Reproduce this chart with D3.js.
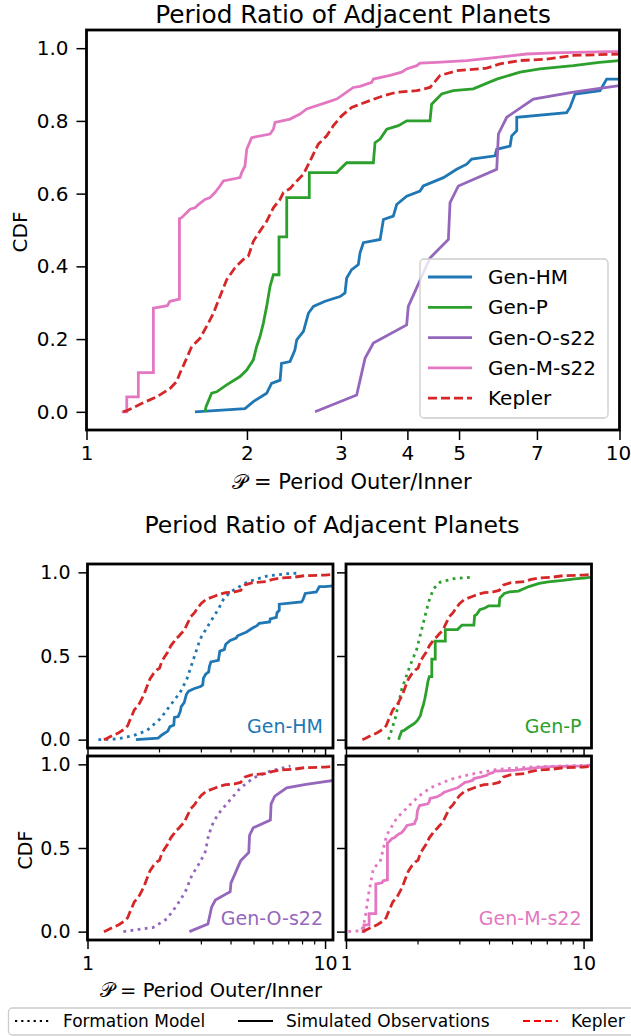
<!DOCTYPE html>
<html>
<head>
<meta charset="utf-8">
<script src="https://cdn.jsdelivr.net/npm/d3@7"></script>
<style>
  body { margin: 0; background: #fff; }
  svg { display: block; font-family: "DejaVu Sans", sans-serif; }
</style>
</head>
<body>
<script>
// Step 1: Data (period ratio P, cumulative fraction)
//= ================================
var kepler = [[1.172,0],[1.198,0.005],[1.269,0.023],[1.354,0.041],[1.434,0.064],[1.476,0.083],[1.497,0.106],[1.541,0.147],[1.575,0.179],[1.633,0.202],[1.693,0.244],[1.730,0.271],[1.780,0.317],[1.832,0.363],[1.899,0.396],[1.969,0.419],[2.012,0.428],[2.056,0.469],[2.116,0.497],[2.178,0.524],[2.242,0.561],[2.307,0.584],[2.341,0.603],[2.409,0.614],[2.462,0.630],[2.552,0.653],[2.627,0.690],[2.722,0.736],[2.823,0.759],[2.905,0.787],[3.011,0.814],[3.144,0.837],[3.260,0.846],[3.403,0.856],[3.605,0.869],[3.818,0.879],[4.163,0.883],[4.410,0.892],[4.606,0.925],[4.949,0.938],[5.634,0.945],[5.968,0.957],[6.507,0.966],[7.301,0.970],[8.193,0.980],[9.99,0.984],[11,0.988]];

var genHM = [[1.598,0],[1.983,0.009],[2.056,0.028],[2.178,0.051],[2.224,0.078],[2.308,0.087],[2.322,0.133],[2.409,0.138],[2.460,0.170],[2.480,0.198],[2.553,0.221],[2.608,0.271],[2.665,0.290],[2.803,0.304],[2.990,0.317],[3.055,0.327],[3.077,0.368],[3.144,0.391],[3.236,0.405],[3.260,0.437],[3.307,0.465],[3.555,0.474],[3.606,0.529],[3.764,0.538],[3.819,0.570],[3.987,0.593],[4.224,0.607],[4.285,0.621],[4.673,0.644],[4.949,0.667],[5.168,0.681],[5.281,0.695],[5.842,0.704],[5.884,0.722],[6.233,0.731],[6.278,0.759],[6.415,0.773],[6.415,0.810],[7.960,0.823],[8.075,0.837],[8.252,0.874],[9.192,0.883],[9.460,0.915],[9.99,0.915],[11,0.92]];

var genP = [[1.669,0],[1.676,0.014],[1.717,0.051],[1.755,0.055],[1.832,0.074],[1.941,0.097],[1.998,0.115],[2.056,0.143],[2.085,0.179],[2.116,0.207],[2.147,0.244],[2.178,0.290],[2.210,0.345],[2.242,0.377],[2.297,0.377],[2.297,0.481],[2.375,0.481],[2.375,0.589],[2.618,0.589],[2.618,0.658],[2.947,0.658],[3.077,0.685],[3.453,0.685],[3.478,0.740],[3.555,0.750],[3.659,0.777],[3.847,0.787],[3.987,0.800],[4.410,0.800],[4.442,0.846],[4.638,0.874],[4.877,0.883],[5.318,0.888],[5.884,0.915],[6.507,0.934],[7.093,0.943],[8.193,0.952],[9.167,0.961],[9.99,0.966],[11,0.972]];

var genO = [[2.684,0],[3.213,0.046],[3.331,0.147],[3.453,0.189],[3.987,0.239],[4.016,0.290],[4.410,0.423],[4.775,0.474],[4.809,0.575],[4.985,0.621],[5.884,0.667],[5.927,0.764],[6.144,0.810],[6.893,0.860],[8.193,0.879],[9.99,0.897],[11,0.905]];

var genM = [[1.164,0],[1.190,0],[1.190,0.041],[1.251,0.041],[1.251,0.108],[1.335,0.108],[1.335,0.285],[1.418,0.292],[1.434,0.304],[1.494,0.310],[1.494,0.531],[1.508,0.534],[1.564,0.557],[1.598,0.561],[1.621,0.570],[1.669,0.584],[1.705,0.589],[1.742,0.603],[1.780,0.621],[1.806,0.635],[1.941,0.644],[1.955,0.658],[1.983,0.676],[1.998,0.722],[2.041,0.754],[2.210,0.764],[2.242,0.777],[2.258,0.796],[2.409,0.805],[2.515,0.819],[2.589,0.833],[2.823,0.851],[2.947,0.860],[3.077,0.879],[3.167,0.892],[3.260,0.895],[3.428,0.906],[3.453,0.915],[3.710,0.925],[3.902,0.934],[3.987,0.943],[4.164,0.952],[4.224,0.959],[4.539,0.961],[5.168,0.966],[5.884,0.975],[6.698,0.984],[7.513,0.987],[9.99,0.991],[11,0.995]];

// formation model (dotted in the small panels)
var formHM = [[1.111,0],[1.328,0.004],[1.561,0.024],[1.776,0.054],[2.023,0.124],[2.229,0.204],[2.456,0.283],[2.621,0.363],[2.797,0.483],[2.984,0.603],[3.287,0.703],[3.565,0.782],[3.743,0.842],[3.993,0.882],[4.695,0.942],[5.702,0.978],[6.922,0.992],[7.882,0.996]];
var formP = [[1.509,0],[1.610,0.124],[1.718,0.303],[1.862,0.443],[1.987,0.543],[2.120,0.703],[2.226,0.822],[2.336,0.902],[2.493,0.942],[2.838,0.962],[3.445,0.972]];
var formO = [[1.416,0],[1.896,0.026],[2.158,0.076],[2.377,0.157],[2.579,0.237],[2.752,0.337],[2.984,0.418],[3.132,0.478],[3.235,0.578],[3.396,0.659],[3.624,0.719],[3.993,0.789],[4.400,0.859],[5.009,0.920],[5.888,0.960],[7.152,0.990]];
var formM = [[1.023,0],[1.164,0.006],[1.203,0.076],[1.242,0.217],[1.304,0.378],[1.392,0.418],[1.484,0.578],[1.636,0.679],[1.803,0.739],[2.020,0.809],[2.262,0.859],[2.747,0.910],[3.337,0.940],[4.322,0.970],[5.974,0.984],[10.7,0.996]];

var seriesNames = ["Gen-HM", "Gen-P", "Gen-O-s22", "Gen-M-s22"];
var seriesColors = ["#1f77b4", "#2ca02c", "#9467bd", "#e377c2"];
var keplerColor = "#d62728";
var mainXTicks = [1, 2, 3, 4, 5, 7, 10];
var mainYTicks = [0, 0.2, 0.4, 0.6, 0.8, 1.0];
var panelYTicks = [0, 0.5, 1.0];
var panelMajorX = [1, 10];
var panelMinorX = [2, 3, 4, 5, 6, 7, 8, 9];

var simData = [genHM, genP, genO, genM];
var formData = [formHM, formP, formO, formM];

// Step 2: SVG wrapper
//= ================================
var svgWidth = 631;
var svgHeight = 1036;

var svg = d3.select("body")
  .append("svg")
  .attr("width", svgWidth)
  .attr("height", svgHeight);

var defs = svg.append("defs");

function styleAxis(g, fontSize) {
  g.select(".domain").remove();
  g.attr("font-family", "DejaVu Sans").attr("font-size", fontSize);
  g.selectAll(".tick line").attr("stroke", "#000").attr("stroke-width", 1.5);
  g.selectAll(".tick text").attr("fill", "#000");
}

// Step 3: Main chart
//= ================================
var main = { left: 86.5, right: 619.5, top: 30, bottom: 430 };

var xMain = d3.scaleLog().domain([1, 10]).range([main.left, main.right]);
var yMain = d3.scaleLinear().domain([-0.05, 1.05]).range([main.bottom, main.top]);

defs.append("clipPath").attr("id", "clip-main")
  .append("rect")
  .attr("x", main.left).attr("y", main.top)
  .attr("width", main.right - main.left).attr("height", main.bottom - main.top);

var lineMain = d3.line()
  .x(d => xMain(d[0]))
  .y(d => yMain(d[1]));

var mainLines = svg.append("g").attr("clip-path", "url(#clip-main)");

simData.forEach(function(data, i) {
  mainLines.append("path")
    .datum(data)
    .attr("d", lineMain)
    .attr("fill", "none")
    .attr("stroke", seriesColors[i])
    .attr("stroke-width", 2.8);
});

mainLines.append("path")
  .datum(kepler)
  .attr("d", lineMain)
  .attr("fill", "none")
  .attr("stroke", keplerColor)
  .attr("stroke-width", 2.8)
  .attr("stroke-dasharray", "9,4");

svg.append("g")
  .attr("transform", `translate(0, ${main.bottom})`)
  .call(d3.axisBottom(xMain).tickValues(mainXTicks).tickFormat(d3.format("d")).tickSize(10).tickPadding(6))
  .call(g => styleAxis(g, 20))
  .selectAll(".tick text").filter(d => d == 10).attr("dx", -1.5);

svg.append("g")
  .attr("transform", `translate(${main.left}, 0)`)
  .call(d3.axisLeft(yMain).tickValues(mainYTicks).tickFormat(d3.format(".1f")).tickSize(10).tickPadding(8))
  .call(g => styleAxis(g, 20));

svg.append("rect")
  .attr("x", main.left).attr("y", main.top)
  .attr("width", main.right - main.left).attr("height", main.bottom - main.top)
  .attr("fill", "none").attr("stroke", "#000").attr("stroke-width", 2.8);

svg.append("text")
  .attr("x", 353).attr("y", 23)
  .attr("text-anchor", "middle")
  .attr("font-size", 24.8)
  .text("Period Ratio of Adjacent Planets");

svg.append("text")
  .attr("x", 352).attr("y", 489)
  .attr("text-anchor", "middle")
  .attr("font-size", 21)
  .text("\u{1D4AB} = Period Outer/Inner");

svg.append("text")
  .attr("transform", "translate(27, 232) rotate(-90)")
  .attr("text-anchor", "middle")
  .attr("font-size", 20)
  .text("CDF");

// legend
var legend = svg.append("g");
legend.append("rect")
  .attr("x", 420).attr("y", 259).attr("width", 188).attr("height", 159).attr("rx", 4)
  .attr("fill", "#fff").attr("fill-opacity", 0.8)
  .attr("stroke", "#ccc").attr("stroke-width", 1.3);

var legendNames = seriesNames.concat(["Kepler"]);
var legendColors = seriesColors.concat([keplerColor]);

legendNames.forEach(function(name, i) {
  var ly = 277 + i * 30.3;
  legend.append("line")
    .attr("x1", 428).attr("x2", 472).attr("y1", ly).attr("y2", ly)
    .attr("stroke", legendColors[i]).attr("stroke-width", 2.8)
    .attr("stroke-dasharray", name == "Kepler" ? "9,4" : null);
  legend.append("text")
    .attr("x", 488).attr("y", ly)
    .attr("dy", "0.35em")
    .attr("font-size", 20)
    .text(name);
});

// Step 4: Small panels
//= ================================
svg.append("text")
  .attr("x", 332).attr("y", 533)
  .attr("text-anchor", "middle")
  .attr("font-size", 23.5)
  .text("Period Ratio of Adjacent Planets");

var panelW = 245.5;
var panelH = 184;
var colX = [87.5, 346];
var rowY = [564, 756];

function drawPanel(k) {
  var col = k % 2;
  var row = Math.floor(k / 2);
  var x0 = colX[col];
  var y0 = rowY[row];

  var xScale = d3.scaleLog().domain([1, 10.8]).range([x0, x0 + panelW]);
  var yScale = d3.scaleLinear().domain([-0.05, 1.05]).range([y0 + panelH, y0]);

  defs.append("clipPath").attr("id", "clip-p" + k)
    .append("rect")
    .attr("x", x0).attr("y", y0).attr("width", panelW).attr("height", panelH);

  var line = d3.line()
    .x(d => xScale(d[0]))
    .y(d => yScale(d[1]));

  var lines = svg.append("g").attr("clip-path", "url(#clip-p" + k + ")");

  lines.append("path")
    .datum(formData[k])
    .attr("d", line)
    .attr("fill", "none")
    .attr("stroke", seriesColors[k])
    .attr("stroke-width", 2.8)
    .attr("stroke-dasharray", "2.8,4.4");

  lines.append("path")
    .datum(simData[k])
    .attr("d", line)
    .attr("fill", "none")
    .attr("stroke", seriesColors[k])
    .attr("stroke-width", 2.8);

  lines.append("path")
    .datum(kepler)
    .attr("d", line)
    .attr("fill", "none")
    .attr("stroke", keplerColor)
    .attr("stroke-width", 2.8)
    .attr("stroke-dasharray", "9,4");

  // x axis, major and minor
  svg.append("g")
    .attr("transform", `translate(0, ${y0 + panelH})`)
    .call(d3.axisBottom(xScale).tickValues(panelMajorX)
      .tickFormat(row == 1 ? d3.format("d") : "").tickSize(9).tickPadding(8))
    .call(g => styleAxis(g, 19));

  svg.append("g")
    .attr("transform", `translate(0, ${y0 + panelH})`)
    .call(d3.axisBottom(xScale).tickValues(panelMinorX).tickFormat("").tickSize(4.5))
    .call(g => styleAxis(g, 19))
    .selectAll(".tick line").attr("stroke-width", 1.2);

  svg.append("g")
    .attr("transform", `translate(${x0}, 0)`)
    .call(d3.axisLeft(yScale).tickValues(panelYTicks)
      .tickFormat(col == 0 ? d3.format(".1f") : "").tickSize(9).tickPadding(8))
    .call(g => styleAxis(g, 19));

  svg.append("rect")
    .attr("x", x0).attr("y", y0).attr("width", panelW).attr("height", panelH)
    .attr("fill", "none").attr("stroke", "#000").attr("stroke-width", 2.8);

  svg.append("text")
    .attr("x", x0 + panelW - 10).attr("y", y0 + panelH - 15)
    .attr("text-anchor", "end")
    .attr("font-size", 19)
    .attr("fill", seriesColors[k])
    .text(seriesNames[k]);
}

[0, 1, 2, 3].forEach(drawPanel);

svg.append("text")
  .attr("x", 211).attr("y", 997)
  .attr("text-anchor", "middle")
  .attr("font-size", 19.5)
  .text("\u{1D4AB} = Period Outer/Inner");

svg.append("text")
  .attr("transform", "translate(32, 850) rotate(-90)")
  .attr("text-anchor", "middle")
  .attr("font-size", 19)
  .text("CDF");

// Step 5: Bottom legend
//= ================================
var legend2 = svg.append("g");
legend2.append("rect")
  .attr("x", 8.5).attr("y", 1008).attr("width", 640).attr("height", 27).attr("rx", 4)
  .attr("fill", "#fff")
  .attr("stroke", "#ccc").attr("stroke-width", 1.3);

var legend2Labels = ["Formation Model", "Simulated Observations", "Kepler"];
var legend2Colors = ["#000", "#000", "#ff0000"];
var legend2Dash = ["2.2,4", null, "7,4"];
var legend2X = [15, 238, 523];

legend2Labels.forEach(function(label, i) {
  legend2.append("line")
    .attr("x1", legend2X[i]).attr("x2", legend2X[i] + 35)
    .attr("y1", 1021).attr("y2", 1021)
    .attr("stroke", legend2Colors[i]).attr("stroke-width", 2.2)
    .attr("stroke-dasharray", legend2Dash[i]);
  legend2.append("text")
    .attr("x", legend2X[i] + 48).attr("y", 1021)
    .attr("dy", "0.35em")
    .attr("font-size", 17)
    .text(label);
});
</script>
</body>
</html>
